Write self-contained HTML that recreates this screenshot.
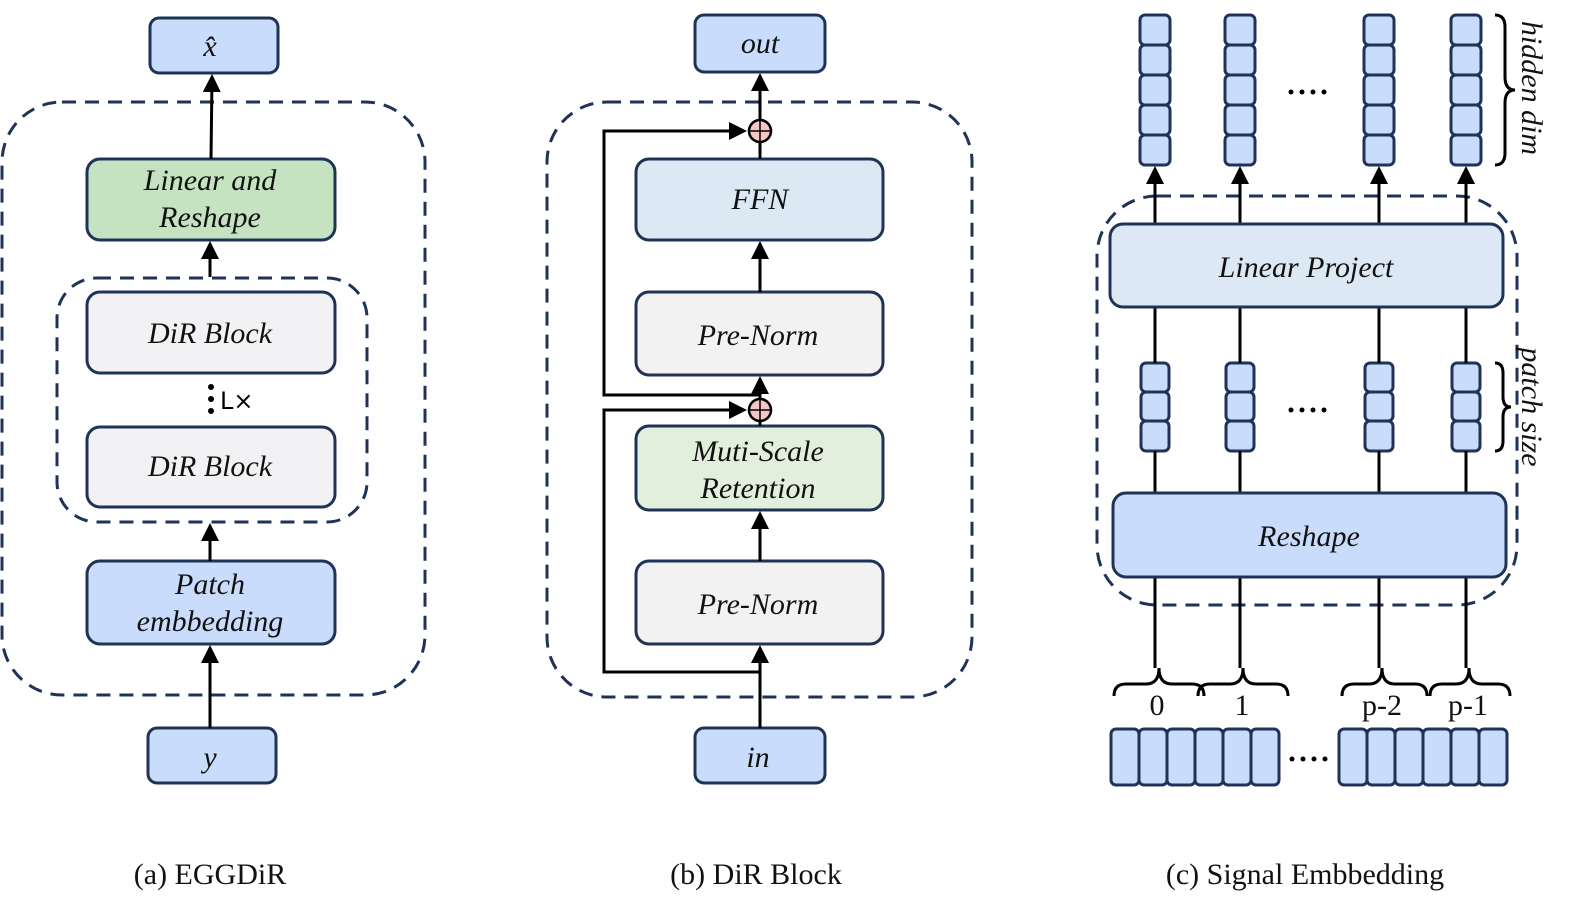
<!DOCTYPE html>
<html><head><meta charset="utf-8"><style>
html,body{margin:0;padding:0;background:#fff}
svg{display:block}
text{font-family:"Liberation Serif",serif}
.t{font-style:italic;font-size:30px;text-anchor:middle;fill:#111}
.b{stroke:#1f3357;stroke-width:3}
.d{fill:none;stroke:#1f3357;stroke-width:3;stroke-dasharray:14 9}
.l{stroke:#000;stroke-width:3;fill:none}
.cap{font-size:30px;text-anchor:middle;fill:#111}
</style></head><body>
<svg width="1576" height="913" viewBox="0 0 1576 913" xmlns="http://www.w3.org/2000/svg">
<defs>
<marker id="a" markerWidth="6" markerHeight="6" refX="5" refY="3" orient="auto" markerUnits="strokeWidth"><path d="M0,0 L6,3 L0,6 z" fill="#000"/></marker>
</defs>
<!-- Panel a -->
<rect class="d" x="2" y="102" width="423" height="593" rx="60"/>
<rect class="d" x="57" y="278" width="310" height="244" rx="40"/>
<rect class="b" x="150" y="18" width="128" height="55" rx="9" fill="#c9dcfb"/>
<text class="t" x="210" y="56">x̂</text>
<rect class="b" x="87" y="159" width="248" height="81" rx="13" fill="#c5e3c0"/>
<text class="t" x="210" y="190">Linear and</text>
<text class="t" x="210" y="227">Reshape</text>
<rect class="b" x="87" y="292" width="248" height="81" rx="13" fill="#f2f2f4"/>
<text class="t" x="210" y="343">DiR Block</text>
<rect class="b" x="87" y="427" width="248" height="80" rx="13" fill="#f2f2f4"/>
<text class="t" x="210" y="476">DiR Block</text>
<circle cx="211" cy="387" r="3" fill="#000"/><circle cx="211" cy="399" r="3" fill="#000"/><circle cx="211" cy="411" r="3" fill="#000"/>
<text x="220" y="409" style="font-family:'DejaVu Sans',sans-serif;font-size:24px">L×</text>
<rect class="b" x="87" y="561" width="248" height="83" rx="13" fill="#c9dcfb"/>
<text class="t" x="210" y="594">Patch</text>
<text class="t" x="210" y="631">embbedding</text>
<rect class="b" x="148" y="728" width="128" height="55" rx="9" fill="#c9dcfb"/>
<text class="t" x="210" y="767">y</text>
<line class="l" x1="210" y1="728" x2="210" y2="648" marker-end="url(#a)"/>
<line class="l" x1="210" y1="561" x2="210" y2="526" marker-end="url(#a)"/>
<line class="l" x1="210" y1="277" x2="210" y2="244" marker-end="url(#a)"/>
<line class="l" x1="211" y1="159" x2="212" y2="77" marker-end="url(#a)"/>
<!-- Panel b -->
<rect class="d" x="547" y="102" width="425" height="595" rx="60"/>
<rect class="b" x="695" y="15" width="130" height="57" rx="9" fill="#c9dcfb"/>
<text class="t" x="760" y="53">out</text>
<rect class="b" x="636" y="159" width="247" height="81" rx="13" fill="#dde8f5"/>
<text class="t" x="760" y="209">FFN</text>
<rect class="b" x="636" y="292" width="247" height="83" rx="13" fill="#f2f2f2"/>
<text class="t" x="758" y="345">Pre-Norm</text>
<rect class="b" x="636" y="426" width="247" height="84" rx="13" fill="#e2efdc"/>
<text class="t" x="758" y="461">Muti-Scale</text>
<text class="t" x="758" y="498">Retention</text>
<rect class="b" x="636" y="561" width="247" height="83" rx="13" fill="#f2f2f2"/>
<text class="t" x="758" y="614">Pre-Norm</text>
<rect class="b" x="695" y="728" width="130" height="55" rx="9" fill="#c9dcfb"/>
<text class="t" x="758" y="767">in</text>
<line class="l" x1="760" y1="728" x2="760" y2="648" marker-end="url(#a)"/>
<line class="l" x1="760" y1="561" x2="760" y2="514" marker-end="url(#a)"/>
<line class="l" x1="760" y1="426" x2="760" y2="421"/>
<line class="l" x1="760" y1="399" x2="760" y2="379" marker-end="url(#a)"/>
<line class="l" x1="760" y1="292" x2="760" y2="244" marker-end="url(#a)"/>
<line class="l" x1="760" y1="159" x2="760" y2="142"/>
<line class="l" x1="760" y1="120" x2="760" y2="76" marker-end="url(#a)"/>
<polyline class="l" points="760,672 604,672 604,410 744,410" marker-end="url(#a)"/>
<polyline class="l" points="760,395 604,395 604,131 744,131" marker-end="url(#a)"/>
<circle cx="760" cy="131" r="11" fill="#f5c6c6" stroke="#000" stroke-width="2.5"/>
<path d="M750,131 H770 M760,121 V141" stroke="#000" stroke-width="1.5"/>
<circle cx="760" cy="410" r="11" fill="#f5c6c6" stroke="#000" stroke-width="2.5"/>
<path d="M750,410 H770 M760,400 V420" stroke="#000" stroke-width="1.5"/>
<!-- Panel c -->
<rect class="d" x="1097" y="196" width="420" height="409" rx="60"/>
<g fill="#c9dcfb" class="b">
<g transform="translate(1155,0)"><rect x="-15" y="15" width="30" height="30" rx="5"/><rect x="-15" y="45" width="30" height="30" rx="5"/><rect x="-15" y="75" width="30" height="30" rx="5"/><rect x="-15" y="105" width="30" height="30" rx="5"/><rect x="-15" y="135" width="30" height="30" rx="5"/></g>
<g transform="translate(1240,0)"><rect x="-15" y="15" width="30" height="30" rx="5"/><rect x="-15" y="45" width="30" height="30" rx="5"/><rect x="-15" y="75" width="30" height="30" rx="5"/><rect x="-15" y="105" width="30" height="30" rx="5"/><rect x="-15" y="135" width="30" height="30" rx="5"/></g>
<g transform="translate(1379,0)"><rect x="-15" y="15" width="30" height="30" rx="5"/><rect x="-15" y="45" width="30" height="30" rx="5"/><rect x="-15" y="75" width="30" height="30" rx="5"/><rect x="-15" y="105" width="30" height="30" rx="5"/><rect x="-15" y="135" width="30" height="30" rx="5"/></g>
<g transform="translate(1466,0)"><rect x="-15" y="15" width="30" height="30" rx="5"/><rect x="-15" y="45" width="30" height="30" rx="5"/><rect x="-15" y="75" width="30" height="30" rx="5"/><rect x="-15" y="105" width="30" height="30" rx="5"/><rect x="-15" y="135" width="30" height="30" rx="5"/></g>
<g transform="translate(1155,0)"><rect x="-14" y="363" width="28" height="29" rx="5"/><rect x="-14" y="392" width="28" height="29" rx="5"/><rect x="-14" y="421" width="28" height="30" rx="5"/></g>
<g transform="translate(1240,0)"><rect x="-14" y="363" width="28" height="29" rx="5"/><rect x="-14" y="392" width="28" height="29" rx="5"/><rect x="-14" y="421" width="28" height="30" rx="5"/></g>
<g transform="translate(1379,0)"><rect x="-14" y="363" width="28" height="29" rx="5"/><rect x="-14" y="392" width="28" height="29" rx="5"/><rect x="-14" y="421" width="28" height="30" rx="5"/></g>
<g transform="translate(1466,0)"><rect x="-14" y="363" width="28" height="29" rx="5"/><rect x="-14" y="392" width="28" height="29" rx="5"/><rect x="-14" y="421" width="28" height="30" rx="5"/></g>
</g>
<g class="l">
<line x1="1155" y1="224" x2="1155" y2="169" marker-end="url(#a)"/>
<line x1="1240" y1="224" x2="1240" y2="169" marker-end="url(#a)"/>
<line x1="1379" y1="224" x2="1379" y2="169" marker-end="url(#a)"/>
<line x1="1466" y1="224" x2="1466" y2="169" marker-end="url(#a)"/>
<path d="M1155,307V363M1240,307V363M1379,307V363M1466,307V363M1155,451V493M1240,451V493M1379,451V493M1466,451V493"/>
<path d="M1155,577V668M1240,577V668M1379,577V668M1466,577V668"/>
</g>
<rect class="b" x="1110" y="224" width="393" height="83" rx="13" fill="#dde8f5"/>
<text class="t" x="1306" y="277">Linear Project</text>
<rect class="b" x="1113" y="493" width="393" height="84" rx="13" fill="#c9dcfb"/>
<text class="t" x="1309" y="546">Reshape</text>
<g fill="#000"><circle cx="1291" cy="92" r="2.5"/><circle cx="1302" cy="92" r="2.5"/><circle cx="1313" cy="92" r="2.5"/><circle cx="1324" cy="92" r="2.5"/>
<circle cx="1291" cy="410" r="2.5"/><circle cx="1302" cy="410" r="2.5"/><circle cx="1313" cy="410" r="2.5"/><circle cx="1324" cy="410" r="2.5"/>
<circle cx="1292" cy="759" r="2.5"/><circle cx="1303" cy="759" r="2.5"/><circle cx="1314" cy="759" r="2.5"/><circle cx="1325" cy="759" r="2.5"/></g>
<path class="l" stroke-width="2.5" d="M1495,15 q10,0 10,12 v50 q0,13 10,13 q-10,0 -10,13 v50 q0,12 -10,12"/>
<path class="l" stroke-width="2.5" d="M1495,363 q8,0 8,10 v24 q0,10 8,10 q-8,0 -8,10 v24 q0,10 -8,10"/>
<text class="t" transform="translate(1522,88) rotate(90)" font-size="28">hidden dim</text>
<text class="t" transform="translate(1522,407) rotate(90)" font-size="28">patch size</text>
<g class="l" stroke-width="2.5">
<path d="M1114,696 q0,-12 12,-12 h20 q13,0 13,-16 q0,16 13,16 h20 q12,0 12,12"/>
<path d="M1198,696 q0,-12 12,-12 h20 q13,0 13,-16 q0,16 13,16 h20 q12,0 12,12"/>
<path d="M1342,696 q0,-12 12,-12 h15 q13,0 13,-16 q0,16 13,16 h20 q12,0 12,12"/>
<path d="M1430,696 q0,-12 12,-12 h14 q13,0 13,-16 q0,16 13,16 h16 q12,0 12,12"/>
</g>
<g class="cap"><text x="1157" y="715">0</text><text x="1242" y="715">1</text><text x="1382" y="715">p-2</text><text x="1468" y="715">p-1</text></g>
<g fill="#c9dcfb" class="b">
<rect x="1111" y="729" width="28" height="56" rx="5"/><rect x="1139" y="729" width="28" height="56" rx="5"/><rect x="1167" y="729" width="28" height="56" rx="5"/><rect x="1195" y="729" width="28" height="56" rx="5"/><rect x="1223" y="729" width="28" height="56" rx="5"/><rect x="1251" y="729" width="28" height="56" rx="5"/>
<rect x="1339" y="729" width="28" height="56" rx="5"/><rect x="1367" y="729" width="28" height="56" rx="5"/><rect x="1395" y="729" width="28" height="56" rx="5"/><rect x="1423" y="729" width="28" height="56" rx="5"/><rect x="1451" y="729" width="28" height="56" rx="5"/><rect x="1479" y="729" width="28" height="56" rx="5"/>
</g>
<text class="cap" x="210" y="884">(a) EGGDiR</text>
<text class="cap" x="756" y="884">(b) DiR Block</text>
<text class="cap" x="1305" y="884">(c) Signal Embbedding</text>
</svg>
</body></html>
